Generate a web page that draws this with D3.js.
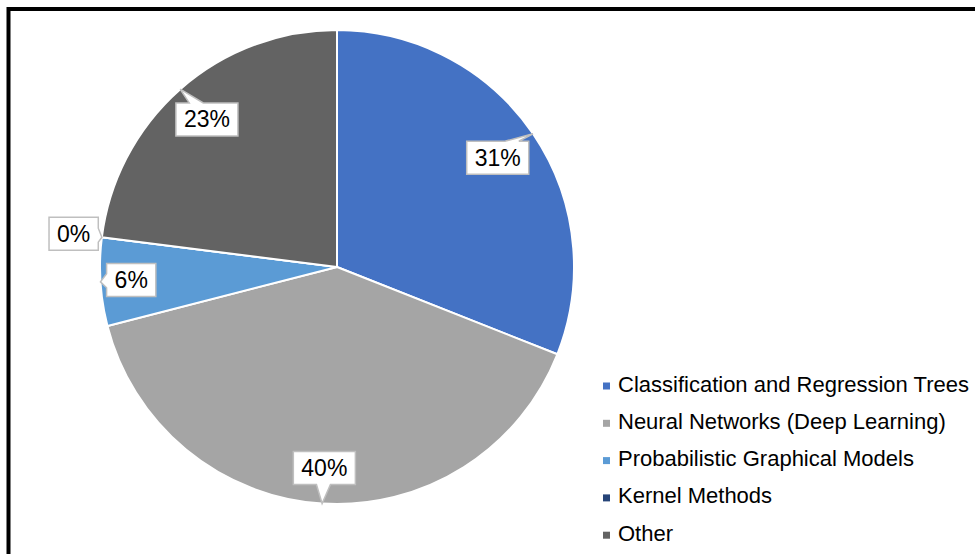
<!DOCTYPE html>
<html>
<head>
<meta charset="utf-8">
<script src="https://cdn.jsdelivr.net/npm/d3@7"></script>
<style>
  html, body { margin: 0; padding: 0; background: #fff; }
  svg { display: block; }
</style>
</head>
<body>
<svg id="chart" width="975" height="554"></svg>
<script>
// Share of methods used (percent)
const categories = [
  "Classification and Regression Trees",
  "Neural Networks (Deep Learning)",
  "Probabilistic Graphical Models",
  "Kernel Methods",
  "Other"
];
const values = [31, 40, 6, 0, 23];
const colors = ["#4472C4", "#A5A5A5", "#5B9BD5", "#264478", "#636363"];
// distance of each data-label box from the centre, as a fraction of the radius
const labelRadius = [0.82, 0.85, 0.87, 1.12, 0.83];

const svg = d3.select("#chart");
const W = 975, H = 554;
const cx = 337, cy = 267, R = 237;

svg.append("rect").attr("width", W).attr("height", H).attr("fill", "#fff");

// frame
svg.append("path")
  .attr("d", "M8.5,554 L8.5,9 L975,9")
  .attr("fill", "none")
  .attr("stroke", "#000")
  .attr("stroke-width", 4);

const pie = d3.pie().sort(null).value(d => d).startAngle(0).endAngle(2 * Math.PI);
const arcs = pie(values);
const arc = d3.arc().innerRadius(0).outerRadius(R);

const g = svg.append("g").attr("transform", `translate(${cx},${cy})`);

g.selectAll("path.slice")
  .data(arcs)
  .join("path")
  .attr("class", "slice")
  .attr("d", arc)
  .attr("fill", (d, i) => colors[i])
  .attr("stroke", "#fff")
  .attr("stroke-width", 2)
  .attr("stroke-linejoin", "round");

const polar = (a, r) => [r * Math.sin(a), -r * Math.cos(a)];
const clamp = (v, a, b) => Math.max(a, Math.min(b, v));

// callout outline: rectangle with a pointer towards the slice edge
function calloutPath(x0, y0, w, h, tip) {
  const x1 = x0 + w, y1 = y0 + h, mx = x0 + w / 2, my = y0 + h / 2;
  const dx = tip[0] - mx, dy = tip[1] - my;
  const half = 7;
  let side;
  if (Math.abs(dx) / (w / 2) > Math.abs(dy) / (h / 2)) side = dx > 0 ? "right" : "left";
  else side = dy > 0 ? "bottom" : "top";
  const bx = clamp(mx + dx * 0.4, x0 + half + 3, x1 - half - 3);
  const by = clamp(my + dy * 0.4, y0 + half + 3, y1 - half - 3);
  const p = d3.path();
  p.moveTo(x0, y0);
  if (side === "top") { p.lineTo(bx - half, y0); p.lineTo(tip[0], tip[1]); p.lineTo(bx + half, y0); }
  p.lineTo(x1, y0);
  if (side === "right") { p.lineTo(x1, by - half); p.lineTo(tip[0], tip[1]); p.lineTo(x1, by + half); }
  p.lineTo(x1, y1);
  if (side === "bottom") { p.lineTo(bx + half, y1); p.lineTo(tip[0], tip[1]); p.lineTo(bx - half, y1); }
  p.lineTo(x0, y1);
  if (side === "left") { p.lineTo(x0, by + half); p.lineTo(tip[0], tip[1]); p.lineTo(x0, by - half); }
  p.closePath();
  return p.toString();
}

const labels = g.selectAll("g.label")
  .data(arcs)
  .join("g")
  .attr("class", "label");

labels.each(function (d, i) {
  const sel = d3.select(this);
  const mid = (d.startAngle + d.endAngle) / 2;
  const c = polar(mid, R * labelRadius[i]);
  const tip = polar(mid, R);
  const box = sel.append("path");
  const txt = sel.append("text")
    .attr("x", c[0])
    .attr("y", c[1])
    .attr("text-anchor", "middle")
    .attr("dominant-baseline", "central")
    .attr("font-family", "'Liberation Sans', Arial, sans-serif")
    .attr("font-size", 23)
    .attr("fill", "#000")
    .text(d3.format(".0%")(d.data / 100));
  const tw = txt.node().getComputedTextLength();
  const w = tw + 16, h = 33;
  box.attr("d", calloutPath(c[0] - w / 2, c[1] - h / 2, w, h, tip))
    .attr("fill", "#fff")
    .attr("stroke", "#BFBFBF")
    .attr("stroke-width", 1.5)
    .attr("stroke-linejoin", "miter");
});

// legend
const legendY = d3.scalePoint().domain(categories).range([384, 533.2]);
const legend = svg.append("g")
  .selectAll("g")
  .data(categories)
  .join("g")
  .attr("transform", d => `translate(603,${legendY(d)})`);

legend.append("rect")
  .attr("x", 0)
  .attr("y", -1.5)
  .attr("width", 7)
  .attr("height", 7)
  .attr("fill", (d, i) => colors[i]);

legend.append("text")
  .attr("x", 15)
  .attr("y", 0)
  .attr("dominant-baseline", "central")
  .attr("font-family", "'Liberation Sans', Arial, sans-serif")
  .attr("font-size", 22)
  .attr("fill", "#000")
  .text(d => d);
</script>
</body>
</html>
